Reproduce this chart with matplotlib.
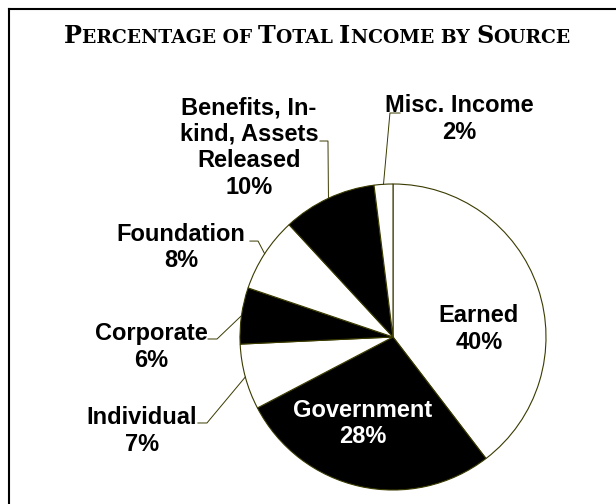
import numpy as np
import matplotlib
matplotlib.use('Agg')
import matplotlib.pyplot as plt
from matplotlib.offsetbox import TextArea, HPacker, AnnotationBbox
from matplotlib.lines import Line2D

# data (clockwise from 12 o'clock)
sources = ['Earned', 'Government', 'Individual', 'Corporate', 'Foundation',
           'Benefits, In-\nkind, Assets\nReleased', 'Misc. Income']
shares = [40, 28, 7, 6, 8, 10, 2]
fills = ['white', 'black', 'white', 'black', 'white', 'black', 'white']

edge = '#3a3a00'
W, H = 616, 504

fig = plt.figure(figsize=(W / 100, H / 100), dpi=100)

# pie axes: centre (393, 337) px, radius 153 px
cx, cy, r = 393, 337, 153
ax = fig.add_axes([(cx - r) / W, (H - cy - r) / H, 2 * r / W, 2 * r / H])
wedges, _ = ax.pie(shares, colors=fills, startangle=90, counterclock=False,
                   wedgeprops=dict(edgecolor=edge, linewidth=0.8))
ax.set_xlim(-1, 1)
ax.set_ylim(-1, 1)
ax.set_aspect('equal')
ax.axis('off')

lab_font = dict(family='Liberation Sans', weight='bold', fontsize=17)

# label layout in pie units: text centre, leader start, leader elbow (None = no leader)
layout = [
    ((0.562, 0.052), None, None, 'black'),
    ((-0.196, -0.565), None, None, 'white'),
    ((-1.641, -0.614), (-1.275, -0.562), (-1.216, -0.562), 'black'),
    ((-1.582, -0.065), (-1.209, -0.013), (-1.150, -0.013), 'black'),
    ((-1.386, 0.585), (-0.935, 0.627), (-0.882, 0.627), 'black'),
    ((-0.941, 1.239), (-0.477, 1.281), (-0.425, 1.281), 'black'),
    ((0.435, 1.425), (0.046, 1.464), (-0.020, 1.464), 'black'),
]

for w, name, val, (txt, p0, p1, col) in zip(wedges, sources, shares, layout):
    ax.text(txt[0], txt[1], f'{name}\n{val}%', ha='center', va='center',
            color=col, linespacing=1.2, clip_on=False, **lab_font)
    if p0 is not None:
        mid = np.deg2rad((w.theta1 + w.theta2) / 2)
        ex, ey = np.cos(mid), np.sin(mid)
        ax.add_line(Line2D([p0[0], p1[0], ex], [p0[1], p1[1], ey],
                           color=edge, lw=0.7, clip_on=False))

# title in small caps
pieces = [('P', 1), ('ERCENTAGE OF ', 0), ('T', 1), ('OTAL ', 0), ('I', 1),
          ('NCOME BY ', 0), ('S', 1), ('OURCE', 0)]
areas = [TextArea(s, textprops=dict(family='DejaVu Serif', weight='bold',
                                    fontsize=17.2 if big else 13.5))
         for s, big in pieces]
title = HPacker(children=areas, align='baseline', pad=0, sep=0)
ab = AnnotationBbox(title, (317 / W, 1 - 36 / H), xycoords='figure fraction',
                    frameon=False, box_alignment=(0.5, 0.5))
fig.add_artist(ab)

# frame (top and left edges visible)
fig.add_artist(Line2D([9 / W, 1], [1 - 9 / H, 1 - 9 / H], color='black', lw=1.5,
                      transform=fig.transFigure))
fig.add_artist(Line2D([9 / W, 9 / W], [0, 1 - 9 / H], color='black', lw=1.5,
                      transform=fig.transFigure))

fig.savefig('out.png', dpi=100, facecolor='white')
